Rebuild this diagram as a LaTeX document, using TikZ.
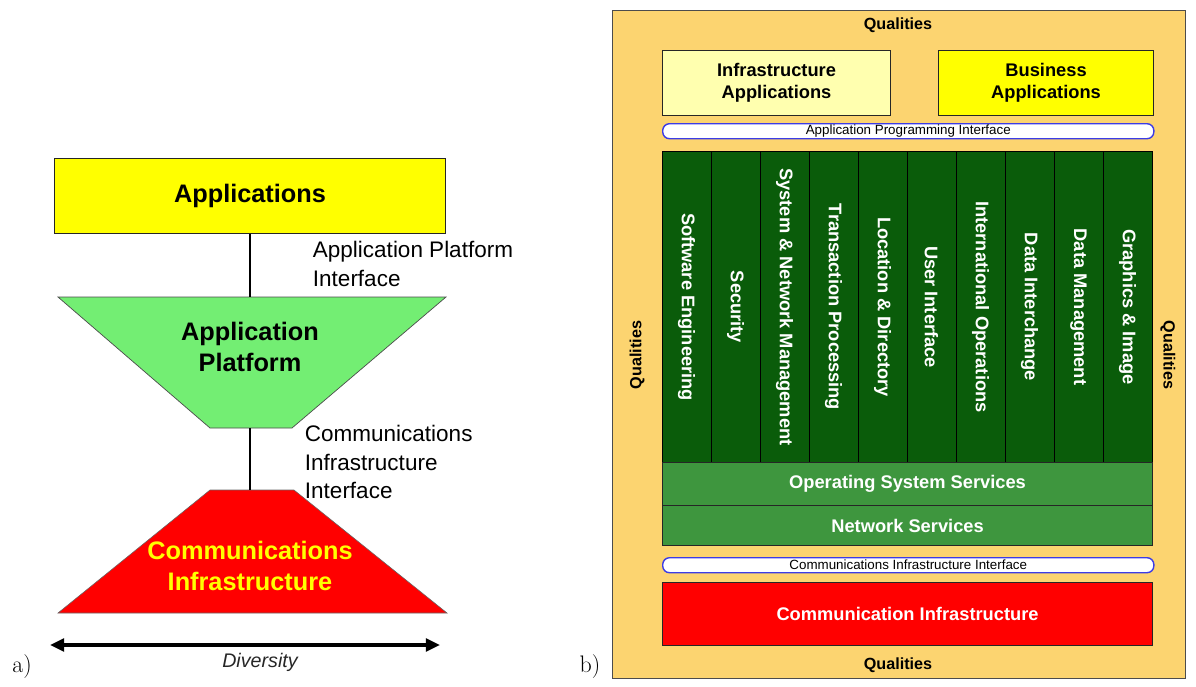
\documentclass[tikz,border=0pt]{standalone}
\usepackage{fontspec}
\newfontfamily\arial{Liberation Sans}
\usetikzlibrary{arrows.meta}

\definecolor{appyellow}{RGB}{255,255,0}
\definecolor{paleyellow}{RGB}{255,255,175}
\definecolor{platgreen}{RGB}{115,238,115}
\definecolor{commred}{RGB}{255,0,0}
\definecolor{qualorange}{RGB}{252,212,112}
\definecolor{colgreen}{RGB}{10,92,10}
\definecolor{svcgreen}{RGB}{62,150,62}
\definecolor{apiblue}{RGB}{60,60,230}

\tikzset{
  box/.style={draw=black!85, line width=0.7pt, inner sep=0pt, align=center},
  bigtext/.style={font=\arial\bfseries\fontsize{18}{22}\selectfont, align=center},
  sidetext/.style={font=\arial\fontsize{16}{20}\selectfont, align=left, anchor=west},
  midtext/.style={font=\arial\bfseries\fontsize{13}{15.5}\selectfont},
  bartext/.style={box, draw=apiblue, line width=1pt, fill=white, rounded corners=1.7mm,
    font=\arial\fontsize{9.5}{11}\selectfont},
  coltext/.style={box, draw=black, fill=colgreen, text=white, rotate=-90,
    minimum width=7.75cm, minimum height=1.225cm, midtext},
  quals/.style={font=\arial\bfseries\fontsize{11.5}{13}\selectfont}
}

\begin{document}
\begin{tikzpicture}[x=0.025cm, y=-0.025cm]
  \useasboundingbox (0,0) rectangle (1196,686);

  % a) Left diagram
  \node[box, bigtext, fill=appyellow, minimum width=9.75cm, minimum height=1.875cm]
    (apps) at (250,195.5) {Applications};

  % Application platform
  \filldraw[fill=platgreen, draw=black!70, line width=0.5pt]
    (58,297) -- (446,297) -- (292,428) -- (210,428) -- cycle;
  \coordinate (plattop) at (250,297);
  \coordinate (platbot) at (250,428);
  \node[bigtext] (plat) at (250,347) {Application\\Platform};

  % Communications infrastructure
  \filldraw[fill=commred, draw=black!60, line width=0.4pt]
    (210,490) -- (294,490) -- (447,613) -- (58,613) -- cycle;
  \coordinate (commtop) at (250,490);
  \node[bigtext, text=appyellow] (comm) at (250,566) {Communications\\Infrastructure};

  % Interfaces
  \draw[line width=1pt] (apps.south) -- (plattop);
  \draw[line width=1pt] (platbot) -- (commtop);
  \node[sidetext] (api) at (308,264) {Application Platform\\Interface};
  \node[sidetext] (cii) at (300,462) {Communications\\Infrastructure\\Interface};

  % Diversity
  \coordinate (divl) at (50,645);
  \coordinate (divr) at (440,645);
  \draw[line width=2.2pt, {Triangle[length=10pt,width=9pt]}-{Triangle[length=10pt,width=9pt]}]
    (divl) -- (divr);
  \node[font=\arial\itshape\fontsize{14}{16}\selectfont, text=black!85] (div) at (260,662) {Diversity};
  \node[font=\fontsize{17}{19}\selectfont] (lbla) at (22,667) {a)};

  % b) Right diagram
  \node[box, fill=qualorange, draw=black!70, anchor=north west,
    minimum width=14.325cm, minimum height=16.7cm] (qual) at (612,10) {};
  \node[quals] (qtop) at (898,25) {Qualities};
  \node[quals] (qbot) at (898,665) {Qualities};
  \node[quals, rotate=90] (qleft) at (637,355) {Qualities};
  \node[quals, rotate=-90] (qright) at (1168,355) {Qualities};

  % Applications
  \node[box, midtext, fill=paleyellow, anchor=north west,
    minimum width=5.7cm, minimum height=1.625cm] (infapps) at (662,50)
    {Infrastructure\\Applications};
  \node[box, midtext, fill=appyellow, anchor=north west,
    minimum width=5.375cm, minimum height=1.625cm] (busapps) at (938,50)
    {Business\\Applications};
  \node[bartext, anchor=north west, minimum width=12.275cm, minimum height=0.375cm]
    (apibar) at (662,123) {Application Programming Interface};

  % Service columns
  \foreach \lbl [count=\i from 0] in {Software Engineering, Security,
      System \& Network Management, Transaction Processing,
      Location \& Directory, User Interface, International Operations,
      Data Interchange, Data Management, Graphics \& Image}
    \node[coltext] (col\i) at ({662+49*(\i+0.5)},307) {\lbl};

  \node[box, midtext, fill=svcgreen, text=white, anchor=north west,
    minimum width=12.25cm, minimum height=1.075cm] (ossvc) at (662,462)
    {Operating System Services};
  \node[box, midtext, fill=svcgreen, text=white, anchor=north west,
    minimum width=12.25cm, minimum height=1cm] (netsvc) at (662,505)
    {Network Services};
  \node[bartext, anchor=north west, minimum width=12.275cm, minimum height=0.375cm]
    (ciibar) at (662,557) {Communications Infrastructure Interface};
  \node[box, midtext, fill=commred, text=white, anchor=north west,
    minimum width=12.25cm, minimum height=1.575cm] (commbox) at (662,582)
    {Communication Infrastructure};
  \node[font=\fontsize{17}{19}\selectfont] (lblb) at (590,667) {b)};
\end{tikzpicture}
\end{document}
